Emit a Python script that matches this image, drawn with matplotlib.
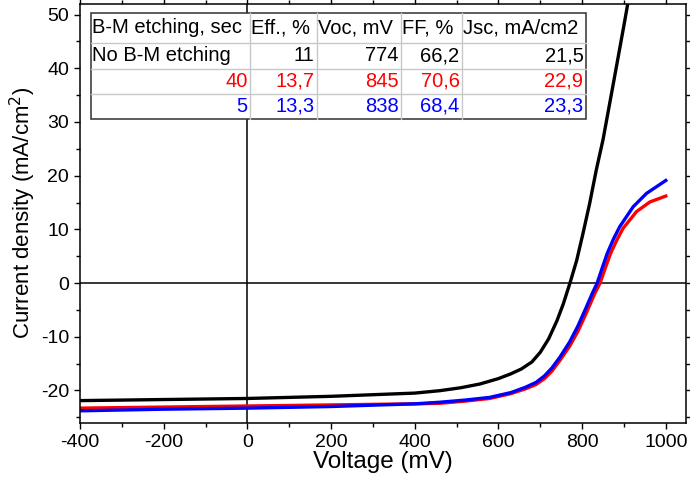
import matplotlib
matplotlib.use('Agg')
import matplotlib.pyplot as plt
from matplotlib.ticker import MultipleLocator
from matplotlib.patches import Rectangle

plt.rcParams['font.family'] = ['Liberation Sans', 'DejaVu Sans']
plt.rcParams['axes.unicode_minus'] = False

# J-V curves (mV, mA/cm2)
v_black = [-400, -200, 0, 200, 400, 460, 510, 556, 600, 630, 655, 680, 700, 720, 740, 755,
           771, 787, 802, 818, 834, 850, 875, 900, 925]
j_black = [-21.9, -21.7, -21.5, -21.1, -20.5, -20.05, -19.5, -18.8, -17.8, -16.9, -16.0,
           -14.7, -12.9, -10.4, -7.0, -3.9, 0, 4.2, 9.2, 14.8, 21.1, 26.7, 37.3, 48.0, 59.0]

v_red = [-400, -200, 0, 200, 400, 460, 520, 579, 630, 665, 690, 710, 728, 747, 770, 790,
         810, 830, 843, 855, 868, 883, 898, 930, 962, 1000]
j_red = [-23.3, -23.1, -22.9, -22.7, -22.5, -22.4, -22.0, -21.5, -20.6, -19.7, -18.9,
         -17.8, -16.4, -14.4, -11.8, -9.0, -5.6, -2.0, 0, 2.7, 5.5, 8.0, 10.2, 13.3, 15.1, 16.2]

v_blue = [-400, -200, 0, 200, 400, 460, 520, 579, 630, 665, 690, 710, 728, 747, 770, 790,
          810, 825, 836, 848, 860, 875, 890, 922, 954, 1000]
j_blue = [-23.8, -23.5, -23.3, -23.0, -22.5, -22.2, -21.8, -21.3, -20.4, -19.4, -18.5,
          -17.3, -15.8, -13.8, -11.0, -8.0, -4.5, -1.8, 0, 2.8, 5.5, 8.2, 10.5, 14.2, 16.7, 19.1]

# table contents
col_labels = ['B-M etching, sec', 'Eff., %', 'Voc, mV', 'FF, %', 'Jsc, mA/cm2']
rows = [['No B-M etching', '11', '774', '66,2', '21,5'],
        ['40', '13,7', '845', '70,6', '22,9'],
        ['5', '13,3', '838', '68,4', '23,3']]
row_colors = ['black', 'red', 'blue']

fig = plt.figure(figsize=(6.9, 4.83), dpi=100)
ax = fig.add_axes([0.116, 0.125, 0.878, 0.867])

ax.plot(v_black, j_black, color='black', lw=2.4, solid_joinstyle='round')
ax.plot(v_red, j_red, color='red', lw=2.4, solid_joinstyle='round')
ax.plot(v_blue, j_blue, color='blue', lw=2.4, solid_joinstyle='round')

ax.axhline(0, color='black', lw=1.1, zorder=1)
ax.axvline(0, color='black', lw=1.1, zorder=1)

ax.set_xlim(-400, 1048)
ax.set_ylim(-26, 52)
ax.xaxis.set_major_locator(MultipleLocator(200))
ax.xaxis.set_minor_locator(MultipleLocator(100))
ax.yaxis.set_major_locator(MultipleLocator(10))
ax.yaxis.set_minor_locator(MultipleLocator(5))
ax.tick_params(which='both', direction='out', top=True, right=True, labelsize=14, width=1)
ax.tick_params(which='major', length=4.5)
ax.tick_params(which='minor', length=3)
for s in ax.spines.values():
    s.set_linewidth(1.1)

ax.set_xlabel('Voltage (mV)', fontsize=17.5, labelpad=0)
ax.set_ylabel('Current density (mA/cm$^2$)', fontsize=16, labelpad=2)

# table drawn in axes coordinates
x_edges = [91, 250, 317, 401, 462, 586]
y_edges = [13, 43, 69, 94, 119]
def fx(px):
    return (px - 80) / 606.0
def fy(py):
    return (422.7 - py) / 418.7

for xe in x_edges[1:-1]:
    ax.plot([fx(xe), fx(xe)], [fy(y_edges[0]), fy(y_edges[-1])], color='#c8c8c8', lw=1,
            transform=ax.transAxes, zorder=5)
for ye in y_edges[1:-1]:
    ax.plot([fx(x_edges[0]), fx(x_edges[-1])], [fy(ye), fy(ye)], color='#c8c8c8', lw=1,
            transform=ax.transAxes, zorder=5)
ax.add_patch(Rectangle((fx(x_edges[0]), fy(y_edges[-1])), fx(x_edges[-1]) - fx(x_edges[0]),
                       fy(y_edges[0]) - fy(y_edges[-1]), transform=ax.transAxes,
                       facecolor='white', edgecolor='#303030', lw=1.1, zorder=4))

for i, lab in enumerate(col_labels):
    yc = (fy(y_edges[0]) + fy(y_edges[1])) / 2
    ax.text(fx(x_edges[i]) + 0.002, yc, lab, transform=ax.transAxes, ha='left', va='center',
            fontsize=14.5, zorder=6)
for r, row in enumerate(rows):
    yc = (fy(y_edges[r + 1]) + fy(y_edges[r + 2])) / 2
    for i, val in enumerate(row):
        if r == 0 and i == 0:
            ax.text(fx(x_edges[i]) + 0.002, yc, val, transform=ax.transAxes, ha='left',
                    va='center', fontsize=14.5, color=row_colors[r], zorder=6)
        else:
            ax.text(fx(x_edges[i + 1]) - 0.004, yc, val, transform=ax.transAxes, ha='right',
                    va='center', fontsize=14.5, color=row_colors[r], zorder=6)

fig.savefig('out.png', dpi=100)
